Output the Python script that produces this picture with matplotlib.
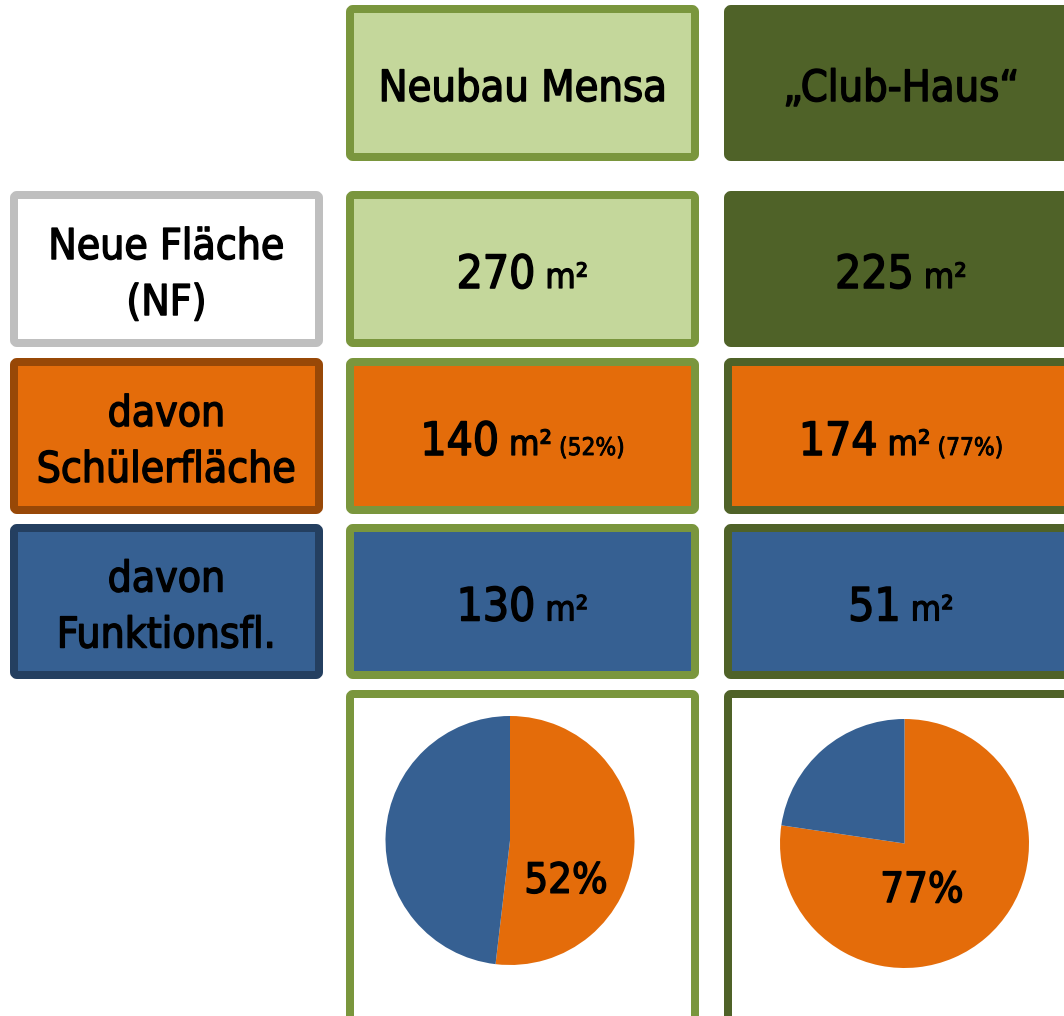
import matplotlib.pyplot as plt
import matplotlib.patheffects as pe
from matplotlib.patches import FancyBboxPatch

# data
buildings = ['Neubau Mensa', '\u201eClub-Haus\u201c']
row_labels = [['Neue Fläche', '(NF)'], ['davon', 'Schülerfläche'], ['davon', 'Funktionsfl.']]
new_area = [270, 225]
student_area = [140, 174]
function_area = [130, 51]
student_share = [52, 77]

W, H = 1064, 1016

# colours
col_fill = ['#c4d79b', '#4f6228']
col_edge = ['#7a963d', '#4f6228']
orange, orange_edge = '#e46c0a', '#984807'
blue, blue_edge = '#366092', '#243f60'

# layout in pixels (top, bottom)
rows = [(5, 161), (191, 347), (358, 514), (524, 679), (690, 1030)]
cols = [(346, 699), (724, 1078)]
label_col = (10, 323)
lw_px = 8


def txt(size):
    # narrow font, slightly thickened so it looks like the original
    return dict(fontsize=size, family='DejaVu Sans', stretch='condensed',
                path_effects=[pe.withStroke(linewidth=0.035 * size, foreground='black')])


def box(ax, x0, x1, y0, y1, fc, ec):
    pad = lw_px / 2
    p = FancyBboxPatch((x0 + pad, y0 + pad), x1 - x0 - 2 * pad, y1 - y0 - 2 * pad,
                       boxstyle='round,pad=0,rounding_size=3',
                       fc=fc, ec=ec, lw=lw_px * 72 / 100, joinstyle='round')
    ax.add_patch(p)


def pieces(ax, cx, base, parts, renderer):
    # parts: list of (text, size); laid out on one baseline and centred at cx
    objs = [ax.text(0, base, t, va='baseline', ha='left', **txt(s))
            for t, s in parts]
    widths = [o.get_window_extent(renderer).width for o in objs]
    x = cx - sum(widths) / 2
    for o, w in zip(objs, widths):
        o.set_x(x)
        x += w


fig = plt.figure(figsize=(W / 100, H / 100), dpi=100)
ax = fig.add_axes([0, 0, 1, 1])
ax.set_xlim(0, W)
ax.set_ylim(H, 0)
ax.axis('off')
renderer = fig.canvas.get_renderer()

# left labels
label_style = [('white', '#bfbfbf'), (orange, orange_edge), (blue, blue_edge)]
for i, (lines, (fc, ec)) in enumerate(zip(row_labels, label_style)):
    y0, y1 = rows[i + 1]
    box(ax, label_col[0], label_col[1], y0, y1, fc, ec)
    cy = (y0 + y1) / 2
    cx = (label_col[0] + label_col[1]) / 2
    ax.text(cx, cy - 10, lines[0], ha='center', va='baseline', **txt(30.5))
    ax.text(cx, cy + 46, lines[1], ha='center', va='baseline', **txt(30.5))

for j, (x0, x1) in enumerate(cols):
    cx = (x0 + x1) / 2
    # header
    y0, y1 = rows[0]
    box(ax, x0, x1, y0, y1, col_fill[j], col_edge[j])
    ax.text(cx, (y0 + y1) / 2 + 18, buildings[j], ha='center', va='baseline', **txt(31))

    # new area
    y0, y1 = rows[1]
    box(ax, x0, x1, y0, y1, col_fill[j], col_edge[j])
    pieces(ax, cx, (y0 + y1) / 2 + 19, [(str(new_area[j]), 33), (' m²', 25)], renderer)

    # student area
    y0, y1 = rows[2]
    box(ax, x0, x1, y0, y1, orange, col_edge[j])
    pieces(ax, cx, (y0 + y1) / 2 + 19,
           [(str(student_area[j]), 33), (' m²', 25), (' (%d%%)' % student_share[j], 17.5)],
           renderer)

    # function area
    y0, y1 = rows[3]
    box(ax, x0, x1, y0, y1, blue, col_edge[j])
    pieces(ax, cx, (y0 + y1) / 2 + 19, [(str(function_area[j]), 33), (' m²', 25)], renderer)

    # pie box
    y0, y1 = rows[4]
    box(ax, x0, x1, y0, y1, 'white', col_edge[j])

# pies
pie_centers = [(510, 840.5), (904.5, 843.5)]
pie_r = 124.5
label_pos = [(0.45, -0.42), (0.14, -0.47)]
for j, (pcx, pcy) in enumerate(pie_centers):
    pax = fig.add_axes([(pcx - pie_r) / W, (H - pcy - pie_r) / H, 2 * pie_r / W, 2 * pie_r / H])
    pax.pie([student_area[j], function_area[j]], colors=[orange, blue],
            startangle=90, counterclock=False, radius=1,
            wedgeprops=dict(linewidth=0))
    pax.set_xlim(-1, 1)
    pax.set_ylim(-1, 1)
    pax.set_aspect('equal')
    pax.axis('off')
    lx, ly = label_pos[j]
    pax.text(lx, ly, '%d%%' % student_share[j], ha='center', va='baseline', **txt(30))

fig.savefig('out.png', dpi=100)
